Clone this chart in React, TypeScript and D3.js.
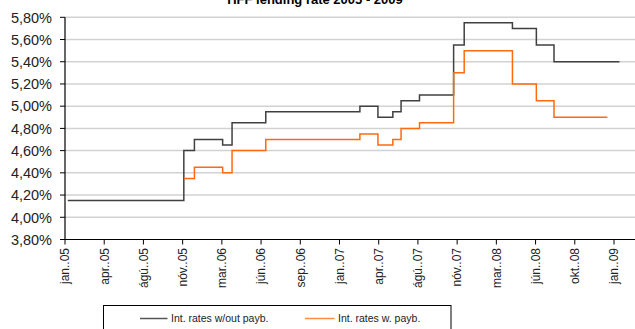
import React from "react";
import * as d3 from "d3";

const W = 635;
const H = 329;

const tickLabels = [
  "jan..05", "apr..05", "ágú..05", "nóv..05", "mar..06", "jún..06", "sep..06",
  "jan..07", "apr..07", "ágú..07", "nóv..07", "mar..08", "jún..08", "okt..08", "jan..09",
];

const yTicks = [3.8, 4.0, 4.2, 4.4, 4.6, 4.8, 5.0, 5.2, 5.4, 5.6, 5.8];

// change points: position in axis-label units, rate (%)
const blackPos = [0.07, 3.03, 3.3, 4.02, 4.26, 5.12, 7.52, 7.98, 8.36, 8.57, 9.04, 9.91, 10.18, 11.41, 12.02, 12.47, 14.14];
const blackVal = [4.15, 4.6, 4.7, 4.65, 4.85, 4.95, 5.0, 4.9, 4.95, 5.05, 5.1, 5.55, 5.75, 5.7, 5.55, 5.4, 5.4];

const orangePos = [3.03, 3.3, 4.02, 4.26, 5.12, 7.52, 7.98, 8.36, 8.57, 9.04, 9.91, 10.18, 11.41, 12.02, 12.47, 13.83];
const orangeVal = [4.35, 4.45, 4.4, 4.6, 4.7, 4.75, 4.65, 4.7, 4.8, 4.85, 5.3, 5.5, 5.2, 5.05, 4.9, 4.9];

const seriesNames = ["Int. rates w/out payb.", "Int. rates w. payb."];
const title = "HFF lending rate 2005 - 2009";

export default function App() {
  const x = d3.scaleLinear().domain([0, 14]).range([65, 614]);
  const y = d3.scaleLinear().domain([3.8, 5.8]).range([239.5, 17.3]);
  const line = d3
    .line<[number, number]>()
    .x((d) => x(d[0]))
    .y((d) => y(d[1]))
    .curve(d3.curveStepAfter);
  const black = line(blackPos.map((p, i) => [p, blackVal[i]] as [number, number])) || "";
  const orange = line(orangePos.map((p, i) => [p, orangeVal[i]] as [number, number])) || "";
  const fmt = (v: number) => v.toFixed(2).replace(".", ",") + "%";
  const font = "'Liberation Sans', Arial, sans-serif";

  return (
    <svg
      width={W}
      height={H}
      style={{ position: "absolute", left: 0, top: 0, background: "#fff" }}
      fontFamily={font}
    >
      <rect x={0} y={0} width={W} height={H} fill="#fff" />
      <text x={315} y={4} textAnchor="middle" fontWeight="bold" fontSize={13} fill="#000">
        {title}
      </text>
      {yTicks.map((t) => (
        <g key={t}>
          {t > 3.8 && (
            <line x1={65} x2={W} y1={y(t)} y2={y(t)} stroke="#d2d2d2" strokeWidth={1.5} />
          )}
          <line x1={60} x2={65} y1={y(t)} y2={y(t)} stroke="#000" strokeWidth={1} />
          <text x={52} y={y(t)} dy="0.36em" textAnchor="end" fontSize={14.5} fill="#222">
            {fmt(t)}
          </text>
        </g>
      ))}
      <line x1={65} x2={65} y1={y(5.8)} y2={y(3.8)} stroke="#000" strokeWidth={1.2} />
      <line x1={65} x2={W} y1={y(3.8)} y2={y(3.8)} stroke="#000" strokeWidth={1.2} />
      {tickLabels.map((lab, i) => (
        <g key={lab + i}>
          <line x1={x(i)} x2={x(i)} y1={y(3.8)} y2={y(3.8) + 5} stroke="#000" strokeWidth={1} />
          <text
            transform={`translate(${x(i)},248) rotate(-90)`}
            textAnchor="end"
            dy="0.36em"
            fontSize={12}
            fill="#222"
          >
            {lab}
          </text>
        </g>
      ))}
      <path d={black} fill="none" stroke="#404040" strokeWidth={1.5} />
      <path d={orange} fill="none" stroke="#ff6a10" strokeWidth={1.5} />
      <rect x={103.5} y={305.5} width={347.5} height={40} fill="#fff" stroke="#000" strokeWidth={1} />
      <line x1={140} x2={167.5} y1={318.5} y2={318.5} stroke="#555" strokeWidth={1.5} />
      <text x={171} y={318.5} dy="0.36em" fontSize={10.5} fill="#222">
        {seriesNames[0]}
      </text>
      <line x1={305} x2={334.5} y1={318.5} y2={318.5} stroke="#ff8c40" strokeWidth={1.5} />
      <text x={338} y={318.5} dy="0.36em" fontSize={10.5} fill="#222">
        {seriesNames[1]}
      </text>
    </svg>
  );
}
